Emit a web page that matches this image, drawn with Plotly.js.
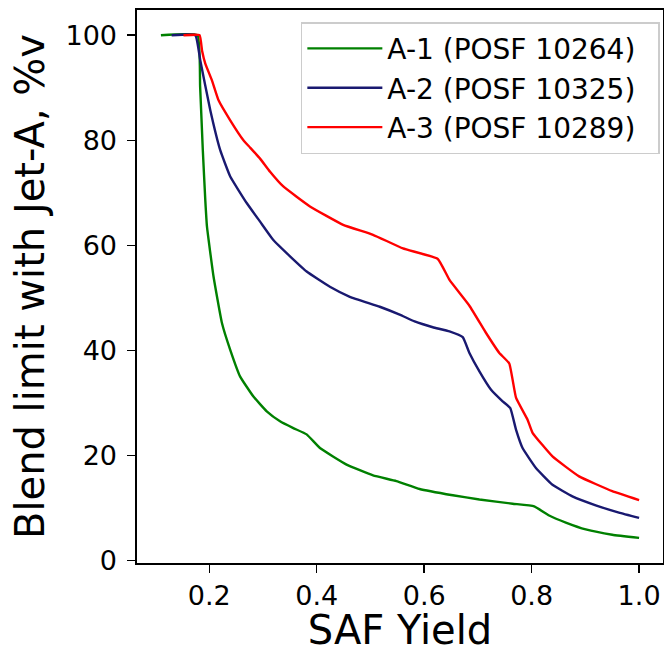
<!DOCTYPE html>
<html>
<head>
<meta charset="utf-8">
<script src="https://cdn.plot.ly/plotly-3.0.1.min.js"></script>
<style>html,body{margin:0;padding:0;background:#fff;}#chart{width:664px;height:653px;}</style>
</head>
<body>
<div id="chart"></div>
<script>
const seriesNames = ["A-1 (POSF 10264)", "A-2 (POSF 10325)", "A-3 (POSF 10289)"];

const a1X = [0.11, 0.178, 0.183, 0.188, 0.1926, 0.1957, 0.208, 0.2236, 0.239, 0.2575, 0.2822, 0.307, 0.3317, 0.3564, 0.3813, 0.406, 0.4555, 0.5048, 0.5483, 0.5915, 0.6533, 0.7028, 0.7646, 0.8048, 0.8326, 0.8636, 0.9007, 0.95, 1.0];
const a1Y = [100, 100, 90.2, 78.1, 68.6, 63.6, 54.0, 45.2, 40.1, 35.0, 31.2, 28.4, 26.5, 25.2, 24.0, 21.4, 18.25, 16.2, 15.1, 13.6, 12.4, 11.6, 10.8, 10.3, 8.55, 7.2, 5.9, 4.9, 4.3];

const a2X = [0.13, 0.174, 0.1833, 0.2019, 0.2204, 0.239, 0.27, 0.2946, 0.3193, 0.3503, 0.3813, 0.4245, 0.4616, 0.5173, 0.5544, 0.5822, 0.6161, 0.6471, 0.6718, 0.6842, 0.7028, 0.7245, 0.746, 0.7603, 0.7709, 0.7831, 0.808, 0.8388, 0.8759, 0.9193, 0.9625, 1.0];
const a2Y = [100, 100, 95.2, 85.7, 78.1, 73.1, 68.0, 64.5, 61.0, 57.9, 55.0, 52.1, 50.2, 48.3, 46.8, 45.5, 44.4, 43.6, 42.5, 39.5, 36.0, 32.5, 30.3, 29.0, 24.9, 21.4, 17.6, 14.4, 12.2, 10.5, 9.1, 8.1];

const a3X = [0.152, 0.182, 0.1865, 0.1926, 0.205, 0.2173, 0.239, 0.2636, 0.276, 0.2946, 0.3132, 0.3378, 0.3874, 0.4492, 0.5048, 0.5605, 0.6254, 0.6471, 0.6842, 0.7152, 0.7399, 0.7584, 0.7709, 0.7924, 0.8017, 0.8388, 0.8883, 0.95, 1.0];
const a3Y = [100, 100, 97.1, 94.6, 91.4, 87.6, 83.8, 80.0, 78.6, 76.5, 74.0, 71.2, 67.4, 63.9, 62.0, 59.4, 57.4, 53.4, 48.5, 43.3, 39.5, 37.5, 31.0, 26.8, 24.3, 19.8, 16.0, 13.2, 11.5];

const xTicks = [0.2, 0.4, 0.6, 0.8, 1.0];
const xTickText = ["0.2", "0.4", "0.6", "0.8", "1.0"];
const yTicks = [0, 20, 40, 60, 80, 100];

const colors = ["#008000", "#191970", "#ff0000"];
const xs = [a1X, a2X, a3X];
const ys = [a1Y, a2Y, a3Y];

const traces = xs.map((x, i) => ({
  x: x, y: ys[i], type: "scatter", mode: "lines",
  name: seriesNames[i] + "\u00a0\u00a0",
  line: {color: colors[i], width: 2.4, shape: "spline", smoothing: 0.35}
}));

const font = "DejaVu Sans, sans-serif";
const layout = {
  width: 664, height: 653,
  margin: {l: 137, r: 1, t: 10, b: 90},
  paper_bgcolor: "#fff", plot_bgcolor: "#fff",
  showlegend: true,
  font: {family: font, color: "#000"},
  xaxis: {
    range: [0.0655, 1.0445], tickvals: xTicks, ticktext: xTickText,
    showgrid: false, zeroline: false, showline: true, mirror: true,
    linecolor: "#000", linewidth: 1.6, ticks: "outside", ticklen: 8, tickwidth: 1.5, tickcolor: "#000",
    ticklabelstandoff: 0,
    tickfont: {size: 27, family: font},
    title: {text: "SAF Yield", font: {size: 40, family: font}, standoff: 11}
  },
  yaxis: {
    range: [-0.49, 104.8], tickvals: yTicks,
    showgrid: false, zeroline: false, showline: true, mirror: true,
    linecolor: "#000", linewidth: 1.6, ticks: "outside", ticklen: 8, tickwidth: 1.5, tickcolor: "#000",
    ticklabelstandoff: 5,
    tickfont: {size: 27, family: font},
    title: {text: "Blend limit with Jet-A, %v", font: {size: 40, family: font}, standoff: 8}
  },
  legend: {
    x: 0.994, y: 0.978, xanchor: "right", yanchor: "top",
    bgcolor: "rgba(255,255,255,0.8)", bordercolor: "#cccccc", borderwidth: 1.5,
    font: {size: 28, family: font}, tracegroupgap: 0, itemwidth: 75
  }
};

Plotly.newPlot("chart", traces, layout, {displayModeBar: false, staticPlot: true});
</script>
</body>
</html>
